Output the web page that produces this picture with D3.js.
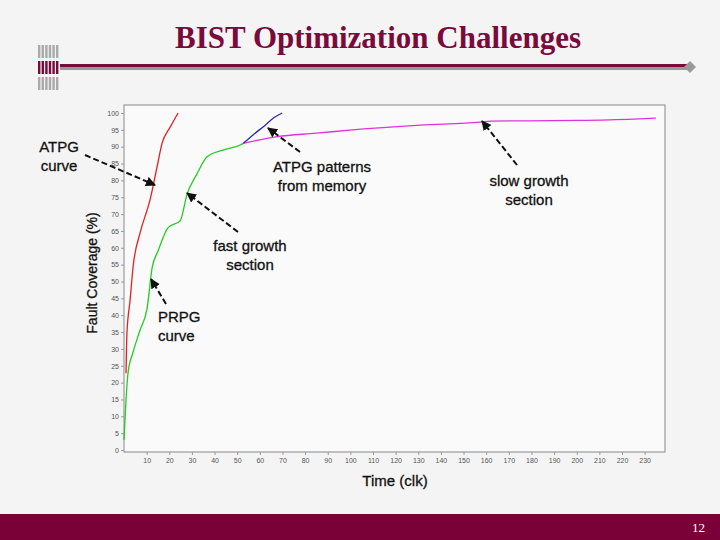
<!DOCTYPE html>
<html><head><meta charset="utf-8">
<script src="https://cdn.jsdelivr.net/npm/d3@7"></script>
<style>body{margin:0;background:#fff}text{font-family:"Liberation Sans",Arial,sans-serif}</style>
</head><body><div class="usable"></div>
<script>
// curves: [time, coverage]
const atpgT = [0.9, 1.3, 2.7, 4.0, 7.1, 11.5, 14.6, 16.8, 20.4, 23.9]
const atpgV = [22.8, 34.7, 44.5, 54.3, 64.4, 74.2, 84, 91, 95.8, 100]
const prpgT = [0, 0.9, 1.8, 4, 7.1, 10.2, 12.4, 15, 19.5, 24.8, 27.9, 32.3, 36.7, 43.8, 51.3, 52.7]
const prpgV = [3, 15, 23, 29, 35.6, 42, 54, 59, 66, 68, 76, 82, 87, 89, 90.5, 91]
const memT = [52.7, 57, 62.4, 66, 69.9]
const memV = [91, 93.5, 96.4, 98.5, 100]
const slowT = [52.7, 67.7, 85, 101, 131, 157.5, 162, 200, 225, 235]
const slowV = [91, 93, 94, 95, 96.4, 97.3, 97.6, 97.8, 98.2, 98.5]
const xTicks = d3.range(10, 240, 10)
const yTicks = d3.range(0, 105, 5)

const W = 720, H = 540
const svg = d3.select(".usable").append("svg").attr("width", W).attr("height", H)

svg.append("rect").attr("width", W).attr("height", H).attr("fill", "#f4f4f4")
svg.append("rect").attr("x", 124).attr("y", 105).attr("width", 541).attr("height", 347)
    .attr("fill", "#fafafa").attr("stroke", "#888").attr("stroke-width", 1)

// header decoration
const mar = "#7a0a3c"
for (let i = 0; i < 6; i++) {
    for (let r = 0; r < 3; r++) {
        svg.append("rect").attr("x", 38 + i * 3.6).attr("y", 45 + r * 16)
            .attr("width", 2.4).attr("height", 13)
            .attr("fill", r == 1 ? mar : "#aaa")
    }
}
svg.append("rect").attr("x", 60).attr("y", 67).attr("width", 630).attr("height", 3).attr("fill", "#999")
svg.append("rect").attr("x", 60).attr("y", 64).attr("width", 630).attr("height", 3).attr("fill", mar)
svg.append("path").attr("d", "M684,67 L690,61 L696,67 L690,73 Z").attr("fill", "#999")
svg.append("text").attr("x", 378).attr("y", 48).attr("text-anchor", "middle")
    .style("font-family", "'Liberation Serif','Times New Roman',serif")
    .attr("font-size", 31).attr("font-weight", "bold").attr("fill", mar)
    .text("BIST Optimization Challenges")

svg.append("rect").attr("x", 0).attr("y", 514).attr("width", W).attr("height", 26).attr("fill", "#7a0038")
svg.append("text").attr("x", 705).attr("y", 532).attr("text-anchor", "end").attr("fill", "#fff")
    .style("font-family", "'Liberation Serif',serif").attr("font-size", 13).text("12")

const x = d3.scaleLinear().domain([0, 239]).range([124, 665])
const y = d3.scaleLinear().domain([0, 100]).range([450, 113])

const xAxis = svg.append("g").attr("transform", "translate(0,452)")
    .call(d3.axisBottom(x).tickValues(xTicks).tickSize(3).tickPadding(3))
const yAxis = svg.append("g").attr("transform", "translate(124,0)")
    .call(d3.axisLeft(y).tickValues(yTicks).tickSize(3).tickPadding(2))
for (const a of [xAxis, yAxis]) {
    a.select(".domain").remove()
    a.selectAll("text").attr("font-size", 7).attr("fill", "#555")
    a.selectAll("line").attr("stroke", "#999")
}

const line = d3.line().x(d => x(d[0])).y(d => y(d[1])).curve(d3.curveMonotoneX)
const curve = (ts, vs, col) => svg.append("path")
    .attr("d", line(d3.zip(ts, vs))).attr("fill", "none")
    .attr("stroke", col).attr("stroke-width", 1.3)
curve(atpgT, atpgV, "#e02020")
curve(prpgT, prpgV, "#22cc22")
curve(slowT, slowV, "#dd33dd")
curve(memT, memV, "#2a2aa0")

// labels
const label = (lines, tx, ty, anchor) => {
    lines.forEach((s, i) => svg.append("text").attr("x", tx).attr("y", ty + i * 19)
        .attr("text-anchor", anchor).attr("font-size", 15).attr("fill", "#111")
        .attr("stroke", "#111").attr("stroke-width", 0.3).text(s))
}
label(["ATPG", "curve"], 59, 152, "middle")
label(["ATPG patterns", "from memory"], 322, 172, "middle")
label(["slow growth", "section"], 529, 186, "middle")
label(["fast growth", "section"], 250, 251, "middle")
label(["PRPG", "curve"], 158, 322, "start")
label(["Time (clk)"], 395, 486, "middle")
svg.append("text").attr("transform", "translate(97,273) rotate(-90)").attr("text-anchor", "middle")
    .attr("font-size", 14).attr("fill", "#111").attr("stroke", "#111").attr("stroke-width", 0.3)
    .text("Fault Coverage (%)")

// dashed arrows
svg.append("defs").append("marker").attr("id", "ah").attr("viewBox", "0 0 10 10")
    .attr("refX", 9).attr("refY", 5).attr("markerWidth", 5).attr("markerHeight", 5)
    .attr("orient", "auto").append("path").attr("d", "M0,0 L10,5 L0,10 Z").attr("fill", "#111")
const arrows = [[85, 155, 155, 185], [300, 152, 268, 128], [517, 165, 482, 121], [238, 232, 187, 193], [166, 304, 151, 279]]
arrows.forEach(a => svg.append("line").attr("x1", a[0]).attr("y1", a[1]).attr("x2", a[2]).attr("y2", a[3])
    .attr("stroke", "#111").attr("stroke-width", 2).attr("stroke-dasharray", "6,3")
    .attr("marker-end", "url(#ah)"))
</script></body></html>
